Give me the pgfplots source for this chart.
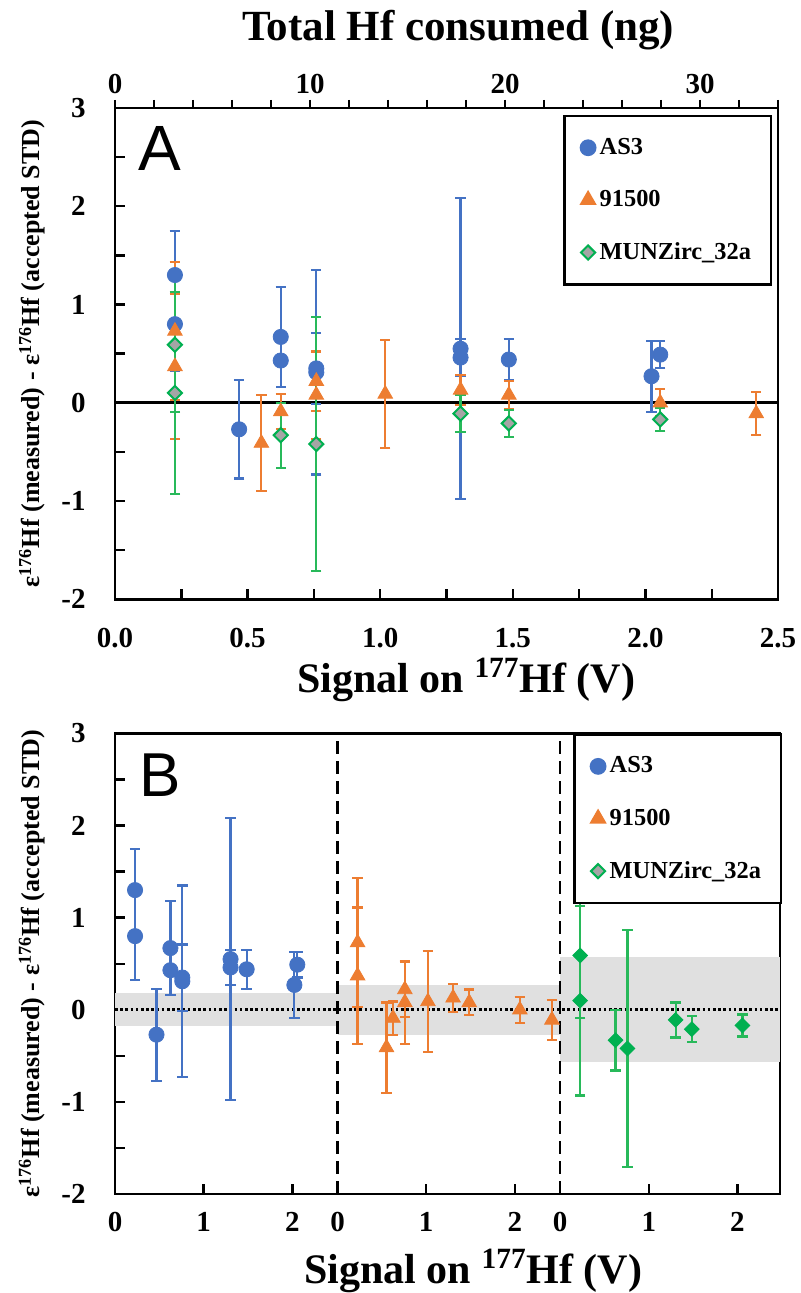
\documentclass[border=0pt]{standalone}
\usepackage{pgfplots}
\pgfplotsset{compat=1.18}
\usepackage{pgfplotstable}
\usepackage{fontspec}
\setmainfont{Liberation Serif}
\newfontfamily\sansfont{Liberation Sans}
\definecolor{cblue}{RGB}{68,114,196}
\definecolor{corange}{RGB}{237,125,49}
\definecolor{cgreen}{RGB}{0,176,80}
\definecolor{cgreenbar}{RGB}{40,185,90}
\definecolor{cgray}{RGB}{165,165,165}
\definecolor{cband}{RGB}{224,224,224}

\pgfplotstableread{
x y e
0.226 1.30 0.45
0.226 0.80 0.48
0.468 -0.27 0.50
0.625 0.67 0.51
0.625 0.43 0.27
0.759 0.35 0.36
0.759 0.31 1.04
1.303 0.55 1.53
1.303 0.46 0.19
1.485 0.44 0.21
2.023 0.27 0.36
2.056 0.49 0.14
}\asthree

\pgfplotstableread{
x y e
0.226 0.73 0.70
0.226 0.37 0.74
0.552 -0.41 0.49
0.625 -0.09 0.18
0.759 0.22 0.30
0.759 0.08 0.45
1.019 0.09 0.55
1.303 0.13 0.15
1.485 0.08 0.14
2.056 0.00 0.14
2.418 -0.11 0.22
}\nineone

\pgfplotstableread{
x y e
0.226 0.59 0.68
0.226 0.10 1.03
0.625 -0.33 0.33
0.759 -0.42 1.29
1.303 -0.11 0.19
1.485 -0.21 0.14
2.056 -0.17 0.12
}\munz

\pgfplotsset{
  base/.style={
    scale only axis, anchor=south west,
    axis line style={line width=1.3pt},
    every tick/.style={black, line width=1.2pt},
    tick align=inside, major tick length=5pt, minor tick length=5pt,
    ymin=-2, ymax=3, ytick={-2,-1,0,1,2,3}, yticklabels={-2,-1,0,1,2,3},
    minor ytick={-1.5,-0.5,0.5,1.5,2.5},
    ytick pos=left, xtick pos=left,
    tick label style={font=\fontsize{14.5}{16}\selectfont\bfseries},
    yticklabel style={anchor=east, inner sep=0pt, xshift=-14.5pt},
    ylabel={ε\textsuperscript{176}Hf (measured) - ε\textsuperscript{176}Hf (accepted STD)},
    ylabel style={at={(axis description cs:-0.125,0.5)}, anchor=center, font=\fontsize{13}{15}\selectfont\bfseries},
    xlabel={Signal on \textsuperscript{177}Hf (V)},
    xlabel style={anchor=base west, font=\fontsize{21}{24}\selectfont\bfseries},
    legend style={draw=black, line width=1.3pt, fill=white, inner xsep=8pt, inner ysep=9pt,
      row sep=12.5pt, font=\fontsize{12.2}{14}\selectfont\bfseries},
    legend cell align=left,
    legend image code/.code={\draw[#1, line width=0.8pt] plot coordinates {(0pt,0pt)};},
  },
  err/.style={error bars/y dir=both, error bars/y explicit,
    error bars/error bar style={line width=1.1pt, #1},
    error bars/error mark options={rotate=90, mark size=2.6pt, line width=1.1pt, #1}},
}

\begin{document}
\begin{tikzpicture}
\useasboundingbox (0,0) rectangle (400.5pt,646.5pt);

% ---------- Panel A (top axis: total Hf consumed) ----------
\begin{axis}[scale only axis, anchor=south west, at={(57.5pt,346.85pt)},
  width=331.5pt, height=245.65pt,
  xmin=0, xmax=34, ymin=0, ymax=1, hide y axis, axis x line*=top,
  axis line style={line width=1.3pt},
  every tick/.style={black, line width=1.2pt},
  xtick={0,10,20,30}, xticklabels={0,10,20,30}, minor xtick={2,4,...,34},
  tick align=outside, major tick length=4pt, minor tick length=4pt,
  tick label style={font=\fontsize{14.5}{16}\selectfont\bfseries},
  xticklabel style={anchor=center, inner sep=0pt, yshift=8pt},
  xlabel={Total Hf consumed (ng)},
  xlabel style={at={(axis description cs:0.181,1)}, anchor=base west, yshift=33.65pt,
    font=\fontsize{21.5}{24}\selectfont\bfseries}]
\end{axis}

% ---------- Panel A ----------
\begin{axis}[base, at={(57.5pt,346.85pt)}, width=331.5pt, height=245.65pt,
  xmin=0, xmax=2.5, xtick={0,0.5,1,1.5,2,2.5}, xticklabels={0.0,0.5,1.0,1.5,2.0,2.5},
  minor xtick={0.25,0.75,1.25,1.75,2.25}, major tick length=5pt, minor tick length=5pt,
  xticklabel style={anchor=center, inner sep=0pt, yshift=-19.35pt},
  xlabel style={at={(axis description cs:0.264,0)}, yshift=-46.85pt},
  legend style={at={(axis description cs:0.676,0.986)}, anchor=north west}]
\addplot[black, line width=1.3pt, forget plot] coordinates {(0,0) (2.5,0)};
\addplot[only marks, mark=*, mark size=3.8pt, cblue, err=cblue, forget plot]
  table[x=x, y=y, y error=e]{\asthree};
\addplot[only marks, mark=triangle*, mark size=4.2pt, corange, err=corange, forget plot]
  table[x=x, y=y, y error=e]{\nineone};
\addplot[only marks, mark=square*, mark size=2.5pt, cgreen, mark options={rotate=45, fill=cgray, draw=cgreen, line width=1pt}, err=cgreenbar, forget plot]
  table[x=x, y=y, y error=e]{\munz};
\addlegendimage{only marks, mark=*, mark size=3.8pt, cblue}
\addlegendentry{AS3}
\addlegendimage{only marks, mark=triangle*, mark size=4.2pt, corange}
\addlegendentry{91500}
\addlegendimage{only marks, mark=square*, mark size=2.5pt, mark options={rotate=45, fill=cgray, draw=cgreen, line width=1pt}}
\addlegendentry{MUNZirc\_32a}
\node[font=\sansfont\fontsize{32}{32}\selectfont, anchor=base] at (axis description cs:0.068,0.872) {A};
\end{axis}

% ---------- Panel B ----------
\begin{axis}[base, at={(57.5pt,49.5pt)}, width=332.5pt, height=230.25pt,
  xmin=0, xmax=7.5, xtick={0,1,2,2.51,3.51,4.51,5.02,6.02,7.02},
  xticklabels={0,1,2,0,1,2,0,1,2},
  xticklabel style={anchor=center, inner sep=0pt, yshift=-14pt},
  xlabel style={at={(axis description cs:0.274,0)}, yshift=-44.65pt},
  legend style={at={(axis description cs:0.689,1)}, anchor=north west}]
\addplot[fill=cband, draw=none, forget plot] coordinates {(0,-0.18) (2.51,-0.18) (2.51,0.18) (0,0.18)} -- cycle;
\addplot[fill=cband, draw=none, forget plot] coordinates {(2.51,-0.27) (5.02,-0.27) (5.02,0.27) (2.51,0.27)} -- cycle;
\addplot[fill=cband, draw=none, forget plot] coordinates {(5.02,-0.57) (7.5,-0.57) (7.5,0.57) (5.02,0.57)} -- cycle;
\addplot[black, line width=1.3pt, dash pattern=on 1.3pt off 1.3pt, forget plot] coordinates {(0,0) (7.5,0)};
\addplot[black, line width=1.2pt, dash pattern=on 6.5pt off 3.5pt, forget plot] coordinates {(2.51,-2) (2.51,3)};
\addplot[black, line width=1.2pt, dash pattern=on 6.5pt off 3.5pt, forget plot] coordinates {(5.02,-2) (5.02,3)};
\addplot[only marks, mark=*, mark size=3.8pt, cblue, err=cblue, forget plot]
  table[x=x, y=y, y error=e]{\asthree};
\addplot[only marks, mark=triangle*, mark size=4.2pt, corange, err=corange, forget plot]
  table[x expr=\thisrow{x}+2.51, y=y, y error=e]{\nineone};
\addplot[only marks, mark=square*, mark size=2.6pt, cgreen, mark options={rotate=45}, err=cgreenbar, forget plot]
  table[x expr=\thisrow{x}+5.02, y=y, y error=e]{\munz};
\addlegendimage{only marks, mark=*, mark size=3.8pt, cblue}
\addlegendentry{AS3}
\addlegendimage{only marks, mark=triangle*, mark size=4.2pt, corange}
\addlegendentry{91500}
\addlegendimage{only marks, mark=square*, mark size=2.5pt, mark options={rotate=45, fill=cgray, draw=cgreen, line width=1pt}}
\addlegendentry{MUNZirc\_32a}
\node[font=\sansfont\fontsize{31}{31}\selectfont, anchor=base] at (axis description cs:0.068,0.864) {B};
\end{axis}
\end{tikzpicture}
\end{document}
